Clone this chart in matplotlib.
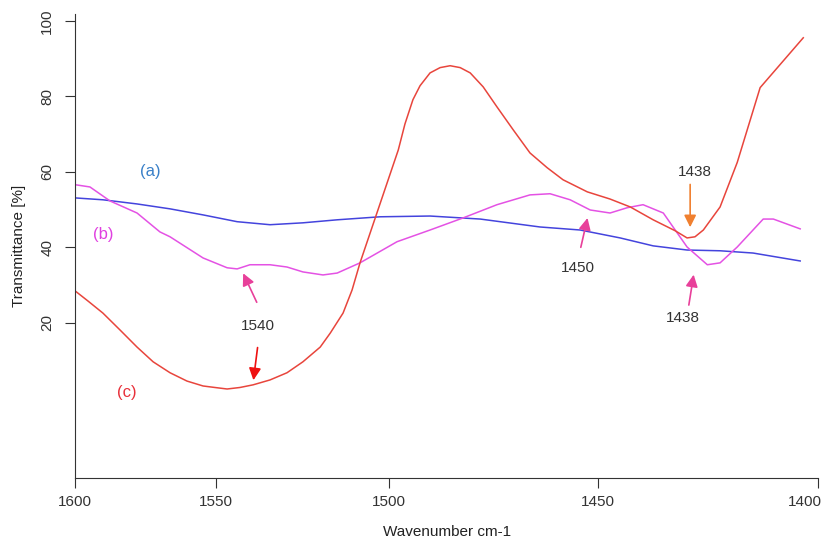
import numpy as np
import matplotlib
matplotlib.use("Agg")
import matplotlib.pyplot as plt
from matplotlib.transforms import ScaledTranslation

plt.rcParams['font.family'] = ['Liberation Sans', 'DejaVu Sans']

# tick positions on the original axis are not evenly spaced
tick_wn = [1400, 1450, 1500, 1550, 1600]
tick_pos = [0, 220, 429, 602, 743]

# (a) blue
wn_a = [1600, 1590.1, 1578.0, 1566.3, 1554.6, 1543.9, 1534.4, 1524.9, 1515.0, 1502.6,
        1490.2, 1478.2, 1463.9, 1454.3, 1445.0, 1437.5, 1429.8, 1422.3, 1414.8, 1404.1]
tr_a = [53.1, 52.6, 51.5, 50.2, 48.6, 46.8, 46.0, 46.5, 47.3, 48.1,
        48.3, 47.5, 45.4, 44.6, 42.5, 40.4, 39.3, 39.1, 38.5, 36.4]

# (b) magenta
wn_b = [1600, 1594.7, 1587.6, 1578.0, 1569.9, 1566.3, 1554.6, 1546.8, 1543.9, 1540.2,
        1534.4, 1529.5, 1524.9, 1519.1, 1515.0, 1508.4, 1498.1, 1490.2, 1482.3, 1474.2,
        1466.3, 1461.5, 1456.7, 1451.9, 1447.3, 1443.4, 1439.8, 1435.2, 1429.8, 1425.2,
        1422.3, 1418.4, 1412.5, 1410.2, 1404.1]
tr_b = [56.6, 56.0, 52.3, 49.1, 44.1, 42.8, 37.2, 34.6, 34.3, 35.4,
        35.4, 34.8, 33.5, 32.7, 33.2, 35.9, 41.5, 44.6, 47.8, 51.3,
        53.9, 54.2, 52.6, 49.9, 49.1, 50.5, 51.3, 49.1, 40.1, 35.4,
        35.9, 40.1, 47.5, 47.5, 44.9]

# (c) red
wn_c = [1600, 1595.4, 1590.1, 1584.0, 1578.0, 1572.3, 1566.3, 1560.3, 1554.6, 1550.4,
        1546.8, 1543.1, 1539.3, 1534.4, 1529.5, 1524.9, 1519.9, 1517.0, 1513.3, 1510.7,
        1508.4, 1504.0, 1497.8, 1496.2, 1494.3, 1492.6, 1490.2, 1487.8, 1485.4, 1483.0,
        1480.6, 1477.5, 1474.2, 1470.3, 1466.3, 1462.2, 1458.4, 1452.6, 1447.3, 1442.7,
        1437.5, 1432.5, 1429.8, 1428.0, 1426.1, 1422.3, 1418.4, 1413.2, 1403.4]
tr_c = [28.5, 25.8, 22.6, 18.1, 13.6, 9.7, 6.8, 4.6, 3.3, 2.9,
        2.5, 2.9, 3.6, 4.9, 6.8, 9.7, 13.6, 17.3, 22.6, 28.7,
        35.9, 47.8, 65.8, 72.7, 79.1, 82.8, 86.2, 87.6, 88.1, 87.6,
        86.2, 82.5, 77.2, 71.1, 65.0, 61.1, 57.9, 54.7, 52.8, 50.7,
        47.3, 44.4, 42.5, 42.8, 44.6, 50.7, 62.5, 82.3, 95.5]

knot_wn = [1380] + tick_wn + [1620]
knot_px = [-88] + tick_pos + [799]


def fwd(w):
    return np.interp(w, knot_wn, knot_px)


def inv(p):
    return np.interp(p, knot_px, knot_wn)


fig = plt.figure(figsize=(8.24, 5.41), dpi=100)
ax = fig.add_axes([0.091, 0.1165, 0.902, 0.858])
ax.set_xscale('function', functions=(fwd, inv))

ax.plot(wn_a, tr_a, color='#4444dd', lw=1.1)
ax.plot(wn_b, tr_b, color='#e452e4', lw=1.1)
ax.plot(wn_c, tr_c, color='#e8453c', lw=1.1)

ax.set_xlim(1400, 1600)
ax.invert_xaxis()
ax.set_ylim(-21.06, 101.85)
ax.set_xticks(tick_wn, labels=[str(t) for t in tick_wn])
ax.set_yticks([20, 40, 60, 80, 100])
ax.tick_params(direction='out', length=7, width=0.8, labelsize=11, colors='#333333')
ax.tick_params(axis='x', pad=5)
ax.tick_params(axis='y', pad=8)
for lab in ax.get_yticklabels():
    lab.set_rotation(90)
    lab.set_va('center')
for lab in ax.get_xticklabels():
    if lab.get_text() == '1400':
        lab.set_ha('right')
        lab.set_transform(lab.get_transform() + ScaledTranslation(4 / 100, 0, fig.dpi_scale_trans))
ax.spines['top'].set_visible(False)
ax.spines['right'].set_visible(False)
ax.spines['left'].set_color('#333333')
ax.spines['bottom'].set_color('#333333')
ax.set_xlabel('Wavenumber cm-1', fontsize=11, color='#222222', labelpad=12)
ax.set_ylabel('Transmittance [%]', fontsize=11, color='#222222', labelpad=10)

# curve labels
ax.text(1573.4, 60.0, '(a)', color='#3a80c8', fontsize=12, ha='center', va='center')
ax.text(1590.1, 43.3, '(b)', color='#e040e0', fontsize=12, ha='center', va='center')
ax.text(1581.6, 1.7, '(c)', color='#e8303a', fontsize=12, ha='center', va='center')

# peak annotations
txt = '#333333'
ax.text(1537.9, 19.2, '1540', color=txt, fontsize=11, ha='center', va='center')
ax.annotate('', xy=(1542.5, 33.8), xytext=(1537.9, 24.8),
            arrowprops=dict(arrowstyle='-|>', color='#e8409a', lw=1.2, mutation_scale=18))
ax.annotate('', xy=(1539.3, 4.1), xytext=(1537.9, 14.2),
            arrowprops=dict(arrowstyle='-|>', color='#ee1111', lw=1.2, mutation_scale=18))

ax.text(1454.8, 34.6, '1450', color=txt, fontsize=11, ha='center', va='center')
ax.annotate('', xy=(1452.4, 48.5), xytext=(1454.3, 39.3),
            arrowprops=dict(arrowstyle='-|>', color='#e8409a', lw=1.2, mutation_scale=18))

ax.text(1428.0, 60.0, '1438', color=txt, fontsize=11, ha='center', va='center')
ax.annotate('', xy=(1429.1, 44.6), xytext=(1429.1, 57.4),
            arrowprops=dict(arrowstyle='-|>', color='#f08030', lw=1.2, mutation_scale=18))

ax.text(1430.7, 21.3, '1438', color=txt, fontsize=11, ha='center', va='center')
ax.annotate('', xy=(1428.2, 33.5), xytext=(1429.5, 24.0),
            arrowprops=dict(arrowstyle='-|>', color='#e8409a', lw=1.2, mutation_scale=18))

fig.savefig('out.png', dpi=100)
